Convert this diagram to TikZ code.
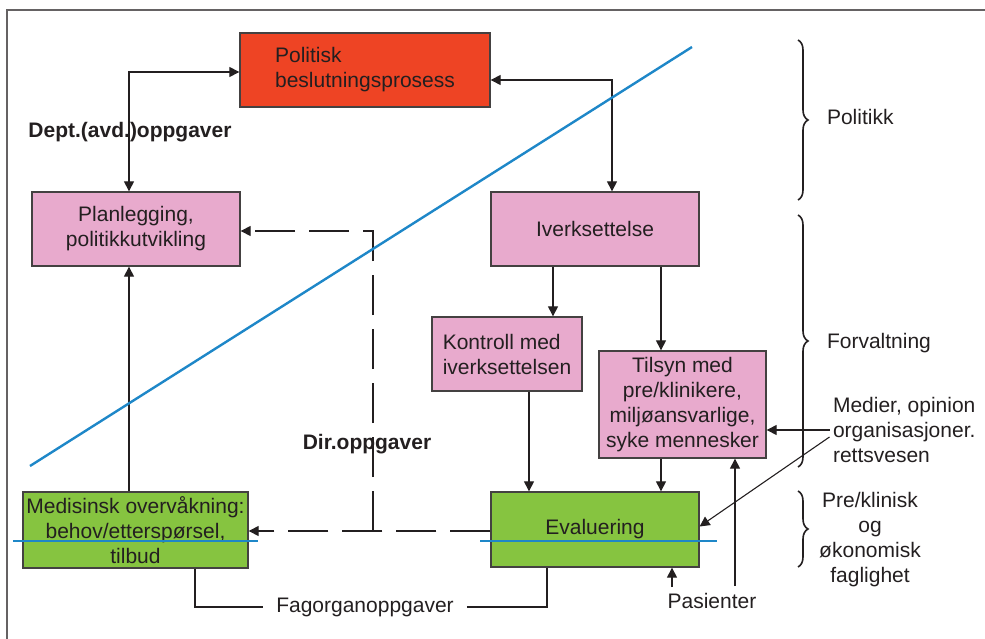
\documentclass[tikz,border=0pt]{standalone}
\usepackage{fontspec}
\setmainfont{Liberation Sans}
\usetikzlibrary{arrows.meta,decorations.pathreplacing}
\definecolor{polred}{RGB}{238,68,36}
\definecolor{boxpink}{RGB}{232,170,205}
\definecolor{boxgreen}{RGB}{134,196,64}
\definecolor{lineblue}{RGB}{30,135,200}
\definecolor{ink}{RGB}{35,31,32}

\begin{document}
\begin{tikzpicture}[x=1pt,y=-1pt,>={Triangle[length=10pt,width=10pt]},
  font=\fontsize{21}{25}\selectfont, text=ink,
  box/.style={draw=ink!85,line width=1.3pt,minimum width=#1,inner sep=0pt},
  arr/.style={->,draw=ink,line width=1.1pt},
  dashline/.style={draw=ink,line width=1.1pt,dash pattern=on 40pt off 14pt},
  bluestroke/.style={draw=lineblue,line width=2.4pt},
  bracket/.style={draw=ink,line width=1.6pt,decorate,decoration={brace,amplitude=10pt}}]
  \useasboundingbox (0,0) rectangle (985,639);
  \draw[ink!70,line width=1.4pt] (7,639) -- (7,10) -- (985,10);

  % boxes
  \node[box=250pt,minimum height=74pt,fill=polred,align=left] (pol) at (365,70) {Politisk\\beslutningsprosess};
  \node[box=208pt,minimum height=74pt,fill=boxpink,align=center] (plan) at (136,229) {Planlegging,\\politikkutvikling};
  \node[box=208pt,minimum height=74pt,fill=boxpink] (iverk) at (595,229) {Iverksettelse};
  \node[box=150pt,minimum height=74pt,fill=boxpink,align=left] (kontr) at (507,354) {Kontroll med\\iverksettelsen};
  \node[box=167pt,minimum height=107pt,fill=boxpink,align=center] (tilsyn) at (682.5,404.5) {Tilsyn med\\pre/klinikere,\\miljøansvarlige,\\syke mennesker};
  \node[box=225pt,minimum height=76pt,fill=boxgreen,align=center] (med) at (135.5,530) {Medisinsk overvåkning:\\behov/etterspørsel,\\tilbud};
  \node[box=208pt,minimum height=75pt,fill=boxgreen] (eval) at (595,529.5) {Evaluering};

  % labels
  \node[font=\fontsize{21}{25}\selectfont\bfseries] (dept) at (130,132) {Dept.(avd.)oppgaver};
  \node[font=\fontsize{21}{25}\selectfont\bfseries] (dir) at (367,444) {Dir.oppgaver};
  \node[inner xsep=13pt] (fag) at (365,607) {Fagorganoppgaver};
  \node (pas) at (712,601) {Pasienter};
  \node[anchor=west,align=left] (medier) at (829.5,430) {Medier, opinion\\organisasjoner.\\rettsvesen};
  \node[anchor=west] (politikk) at (823.5,117) {Politikk};
  \node[anchor=west] (forv) at (823.5,343) {Forvaltning};
  \node[align=center] (pre) at (870,540) {Pre/klinisk\\og\\økonomisk\\faglighet};

  % connectors
  \draw[arr,<->] ([yshift=-2pt]pol.west) -| ([xshift=-7pt]plan.north);
  \draw[arr,<->] ([yshift=-10pt]pol.east) -| ([xshift=17pt]iverk.north);
  \draw[arr] ([xshift=-42pt]iverk.south) -- ([xshift=-42pt]iverk.south |- kontr.north);
  \draw[arr] ([xshift=66pt]iverk.south) -- ([xshift=66pt]iverk.south |- tilsyn.north);
  \draw[arr] ([xshift=22pt]kontr.south) -- ([xshift=22pt]kontr.south |- eval.north);
  \draw[arr] ([xshift=-21.5pt]tilsyn.south) -- ([xshift=-21.5pt]tilsyn.south |- eval.north);
  \draw[arr] ([xshift=-6.5pt]med.north) -- ([xshift=-6.5pt]med.north |- plan.south);
  \coordinate (dc) at (373,531);
  \draw[dashline,->] ([yshift=-1.5pt]eval.west) -- ([yshift=-1.5pt]eval.west -| med.east);
  \draw[dashline,->] (dc) |- ([yshift=-2pt]plan.east);
  \draw[ink,line width=1.1pt] ([xshift=59.5pt]med.south) |- (fag.west);
  \draw[ink,line width=1.1pt] (fag.east) -| ([xshift=-48pt]eval.south);
  \coordinate (p1) at (672,587);
  \coordinate (p2) at (735,586);
  \draw[arr] (p1) -- (p1 |- eval.south);
  \draw[arr] (p2) -- (p2 |- tilsyn.south);
  \draw[arr] (medier.west) -- (medier.west -| tilsyn.east);
  \draw[arr] ([yshift=-7pt]medier.west) -- ([yshift=3pt]eval.east);

  % braces
  \draw[bracket] (798,40) -- (798,200);
  \draw[bracket] (798,215) -- (798,467);
  \draw[bracket] (798,491) -- (798,567);

  % blue lines
  \draw[bluestroke] (30,466) -- (692,47);
  \draw[bluestroke] (13,541) -- (258,541);
  \draw[bluestroke] (480,541) -- (717,541);
\end{tikzpicture}
\end{document}
